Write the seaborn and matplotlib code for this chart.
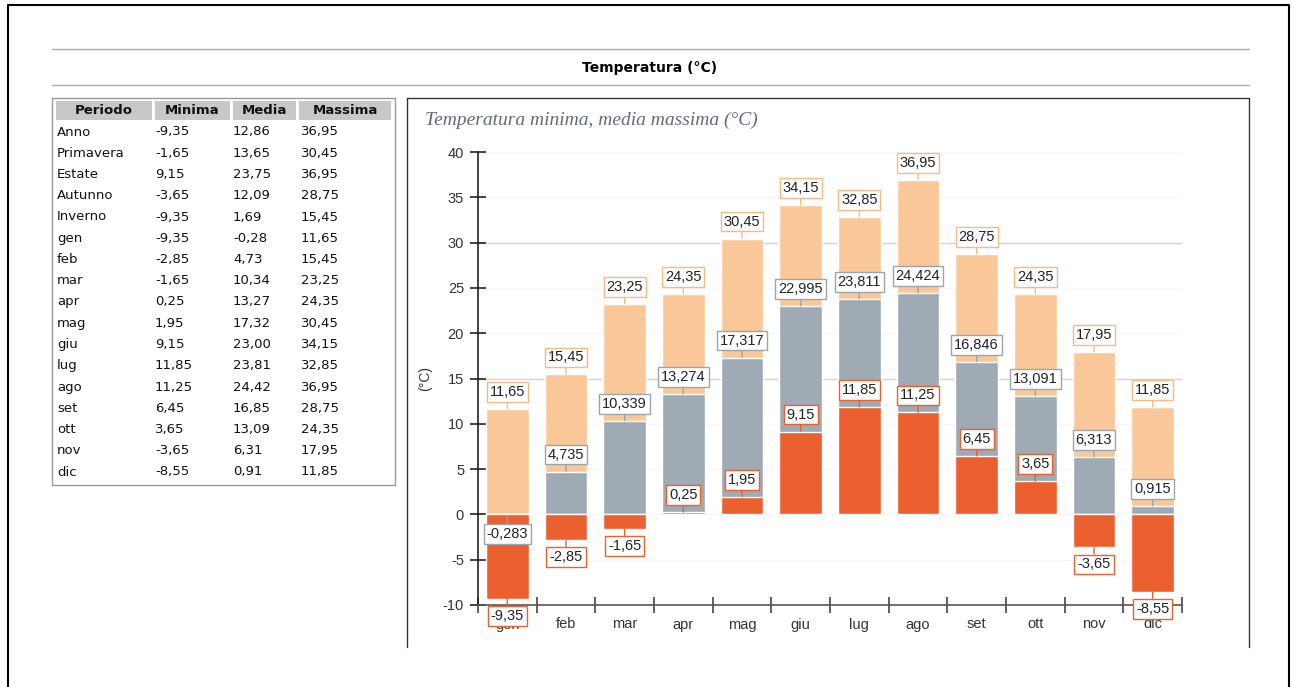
import numpy as np
import matplotlib
matplotlib.use("Agg")
import matplotlib.pyplot as plt
import seaborn as sns
from matplotlib.patches import Rectangle

months = ["gen", "feb", "mar", "apr", "mag", "giu", "lug", "ago", "set", "ott", "nov", "dic"]
t_min = [-9.35, -2.85, -1.65, 0.25, 1.95, 9.15, 11.85, 11.25, 6.45, 3.65, -3.65, -8.55]
t_mean = [-0.283, 4.735, 10.339, 13.274, 17.317, 22.995, 23.811, 24.424, 16.846, 13.091, 6.313, 0.915]
t_max = [11.65, 15.45, 23.25, 24.35, 30.45, 34.15, 32.85, 36.95, 28.75, 24.35, 17.95, 11.85]

periods = ["Anno", "Primavera", "Estate", "Autunno", "Inverno"] + months
tab_min = [-9.35, -1.65, 9.15, -3.65, -9.35] + t_min
tab_media = [12.86, 13.65, 23.75, 12.09, 1.69, -0.28, 4.73, 10.34, 13.27, 17.32,
             23.00, 23.81, 24.42, 16.85, 13.09, 6.31, 0.91]
tab_max = [36.95, 30.45, 36.95, 28.75, 15.45] + t_max
headers = ["Periodo", "Minima", "Media", "Massima"]

c_max = "#fac898"
c_mean = "#a0aab4"
c_min = "#ec602f"


def fmt(v, d):
    return f"{v:.{d}f}".replace(".", ",")


sns.set_style("white")
plt.rcParams["font.family"] = ["DejaVu Sans"]
plt.rcParams["axes.unicode_minus"] = False

W, H = 1294, 687
fig = plt.figure(figsize=(W / 100, H / 100), dpi=100)

# page layer in pixel coordinates
bg = fig.add_axes([0, 0, 1, 1])
bg.set_xlim(0, W)
bg.set_ylim(H, 0)
bg.axis("off")

bg.plot([8, 8, 1289, 1289], [687, 5, 5, 687], color="black", lw=1.5)
bg.plot([52, 1249], [49, 49], color="#aaaaaa", lw=1)
bg.plot([52, 1249], [85, 85], color="#aaaaaa", lw=1)
bg.text(650, 68, "Temperatura (°C)", ha="center", va="center",
        fontsize=10, fontweight="bold", color="black")

# table
bg.add_patch(Rectangle((52, 98), 343, 387, fill=False, ec="#999999", lw=1))
col_x = [(56, 152), (155, 230), (233, 296), (299, 391)]
for (x0, x1), h in zip(col_x, headers):
    bg.add_patch(Rectangle((x0, 101), x1 - x0, 19, fc="#c8c8c8", ec="none"))
    bg.text((x0 + x1) / 2, 111, h, ha="center", va="center",
            fontsize=9.5, fontweight="bold", color="#111111")
text_x = [57, 155, 233, 301]
for i, p in enumerate(periods):
    y = 132 + i * 21.25
    vals = [p, fmt(tab_min[i], 2), fmt(tab_media[i], 2), fmt(tab_max[i], 2)]
    for x, v in zip(text_x, vals):
        bg.text(x, y, v, ha="left", va="center", fontsize=9.5, color="#111111")

# chart panel frame
bg.plot([407, 407, 1249, 1249], [647, 98, 98, 647], color="#333333", lw=1)
bg.text(425, 120, "Temperatura minima, media massima (°C)", ha="left", va="center",
        fontsize=14, fontstyle="italic", family="Liberation Serif", color="#5f6b78")

ax = fig.add_axes([478 / W, (H - 605) / H, 704 / W, 453 / H])
ax.set_facecolor("none")

for yv in range(-5, 41, 5):
    col = "#d4d4d4" if yv in (15, 30) else "#f7f7f7"
    ax.axhline(yv, color=col, lw=1, zorder=0)

sns.barplot(x=months, y=t_max, color=c_max, saturation=1, width=0.73, ax=ax, zorder=2)
sns.barplot(x=months, y=t_mean, color=c_mean, saturation=1, width=0.73, ax=ax, zorder=2)
sns.barplot(x=months, y=t_min, color=c_min, saturation=1, width=0.73, ax=ax, zorder=2)

ax.set_xlim(-0.5, 11.5)
ax.set_ylim(-10, 40)
ax.set_yticks(range(-10, 41, 5))
ax.set_xticks(np.arange(12), labels=months)
ax.set_xticks(np.arange(-0.5, 12, 1), minor=True)
ax.tick_params(axis="x", which="major", bottom=True, length=0, pad=9, labelsize=10.5,
               labelcolor="#333333", labelfontfamily="Liberation Sans")
ax.tick_params(axis="x", which="minor", bottom=True, length=11, direction="inout",
               color="#444444", width=1.2)
ax.tick_params(axis="y", left=True, length=12, direction="inout", color="#222222", width=1.2,
               pad=4, labelsize=10.5, labelcolor="#333333", labelfontfamily="Liberation Sans")
for s in ["top", "right"]:
    ax.spines[s].set_visible(False)
ax.spines["left"].set_color("#222222")
ax.spines["left"].set_linewidth(1.2)
ax.spines["bottom"].set_color("#555555")
ax.spines["bottom"].set_linewidth(1.2)
ax.set_xlabel("")
ax.set_ylabel("(°C)", fontsize=10, color="#333333", family="Liberation Sans", labelpad=8)


def add_labels(vals, dec, ec, z):
    for i, v in enumerate(vals):
        off = 17 if v >= 0 else -17
        ax.annotate(fmt(v, dec), xy=(i, v), xytext=(0, off), textcoords="offset pixels",
                    ha="center", va="center", fontsize=10.5, family="Liberation Sans",
                    color="#222222", zorder=z, annotation_clip=False,
                    bbox=dict(boxstyle="square,pad=0.2", fc="white", ec=ec, lw=1),
                    arrowprops=dict(arrowstyle="-", color=ec, lw=1, shrinkA=0, shrinkB=0))


add_labels(t_max, 2, "#f8b888", 5)
add_labels(t_mean, 3, "#9aa4ae", 6)
add_labels(t_min, 2, "#ec602f", 7)

fig.savefig("out.png", dpi=100)
plt.close()
